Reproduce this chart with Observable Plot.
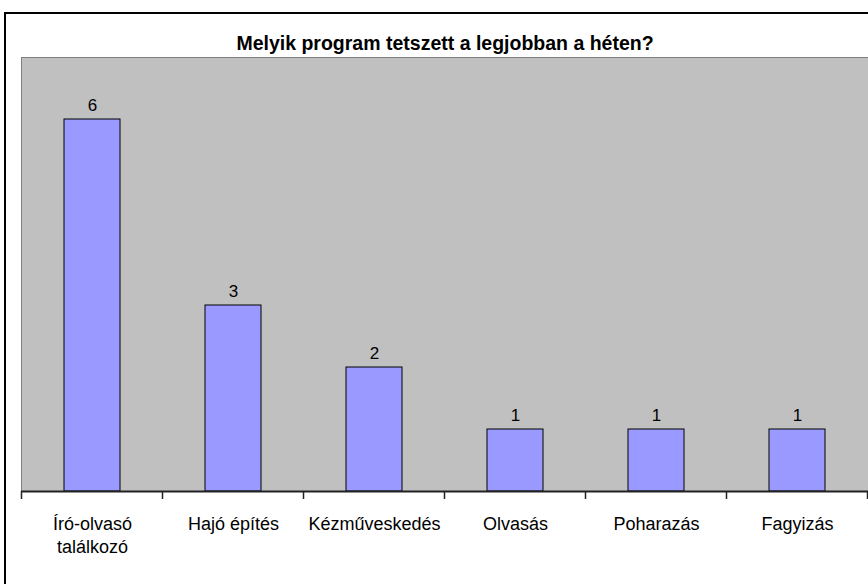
<!DOCTYPE html>
<html>
<head>
<meta charset="utf-8">
<script src="https://cdn.jsdelivr.net/npm/d3@7"></script>
<script src="https://cdn.jsdelivr.net/npm/@observablehq/plot@0.6"></script>
<style>
  html, body { margin: 0; padding: 0; background: #fff; overflow: hidden; width: 868px; height: 584px; }
  #wrap { position: relative; width: 868px; height: 584px; }
  #border { position: absolute; left: 4px; top: 12px; width: 900px; height: 620px; border: 2px solid #000; box-sizing: border-box; }
  #chart { position: absolute; left: 0; top: 0; }
</style>
</head>
<body>
<div id="wrap"><div id="border"></div><div id="chart"></div></div>
<script>
const title = "Melyik program tetszett a legjobban a héten?";
const categories = ["Író-olvasó\ntalálkozó", "Hajó építés", "Kézműveskedés", "Olvasás", "Poharazás", "Fagyizás"];
const values = [6, 3, 2, 1, 1, 1];

const data = categories.map((c, i) => ({cat: c, value: values[i]}));
const font = "Arial, 'Liberation Sans', sans-serif";

function boundaryTicks(cats) {
  return (index, scales, values, dims, context) => {
    const x = scales.x;
    const step = x(cats[1]) - x(cats[0]);
    const bw = x.bandwidth ? x.bandwidth() : step * 0.4;
    const gap = (step - bw) / 2;
    const pos = cats.map(c => x(c) - gap);
    pos.push(x(cats[cats.length - 1]) + bw + gap);
    const y0 = dims.height - dims.marginBottom;
    const g = d3.create("svg:g");
    for (const p of pos) {
      g.append("line").attr("x1", p).attr("x2", p).attr("y1", y0).attr("y2", y0 + 8)
        .attr("stroke", "#222").attr("stroke-width", 1.5);
    }
    return g.node();
  };
}

const plot = Plot.plot({
  width: 868,
  height: 584,
  marginLeft: 21,
  marginRight: 0,
  marginTop: 57,
  marginBottom: 93,
  style: {fontFamily: font, background: "transparent", overflow: "visible"},
  x: {domain: categories, paddingInner: 0.6, paddingOuter: 0.3, axis: null},
  y: {domain: [0, 7], axis: null},
  marks: [
    Plot.frame({fill: "#c0c0c0", stroke: "#808080"}),
    Plot.barY(data, {x: "cat", y: "value", fill: "#9999ff", stroke: "#000", strokeWidth: 1}),
    Plot.ruleY([0], {stroke: "#222", strokeWidth: 2}),
    boundaryTicks(categories),
    Plot.text(data, {x: "cat", y: "value", text: d => String(d.value), lineAnchor: "bottom", dy: -9, fontSize: 17, fill: "#000"}),
    Plot.text(data, {x: "cat", frameAnchor: "bottom", text: "cat", lineAnchor: "top", dy: 23, fontSize: 18, lineHeight: 1.25, fill: "#000"}),
    Plot.text([title], {frameAnchor: "top", text: d => d, lineAnchor: "bottom", dy: -8, fontSize: 19.5, fontWeight: "bold", fill: "#000"})
  ]
});
document.getElementById("chart").appendChild(plot);
</script>
</body>
</html>
